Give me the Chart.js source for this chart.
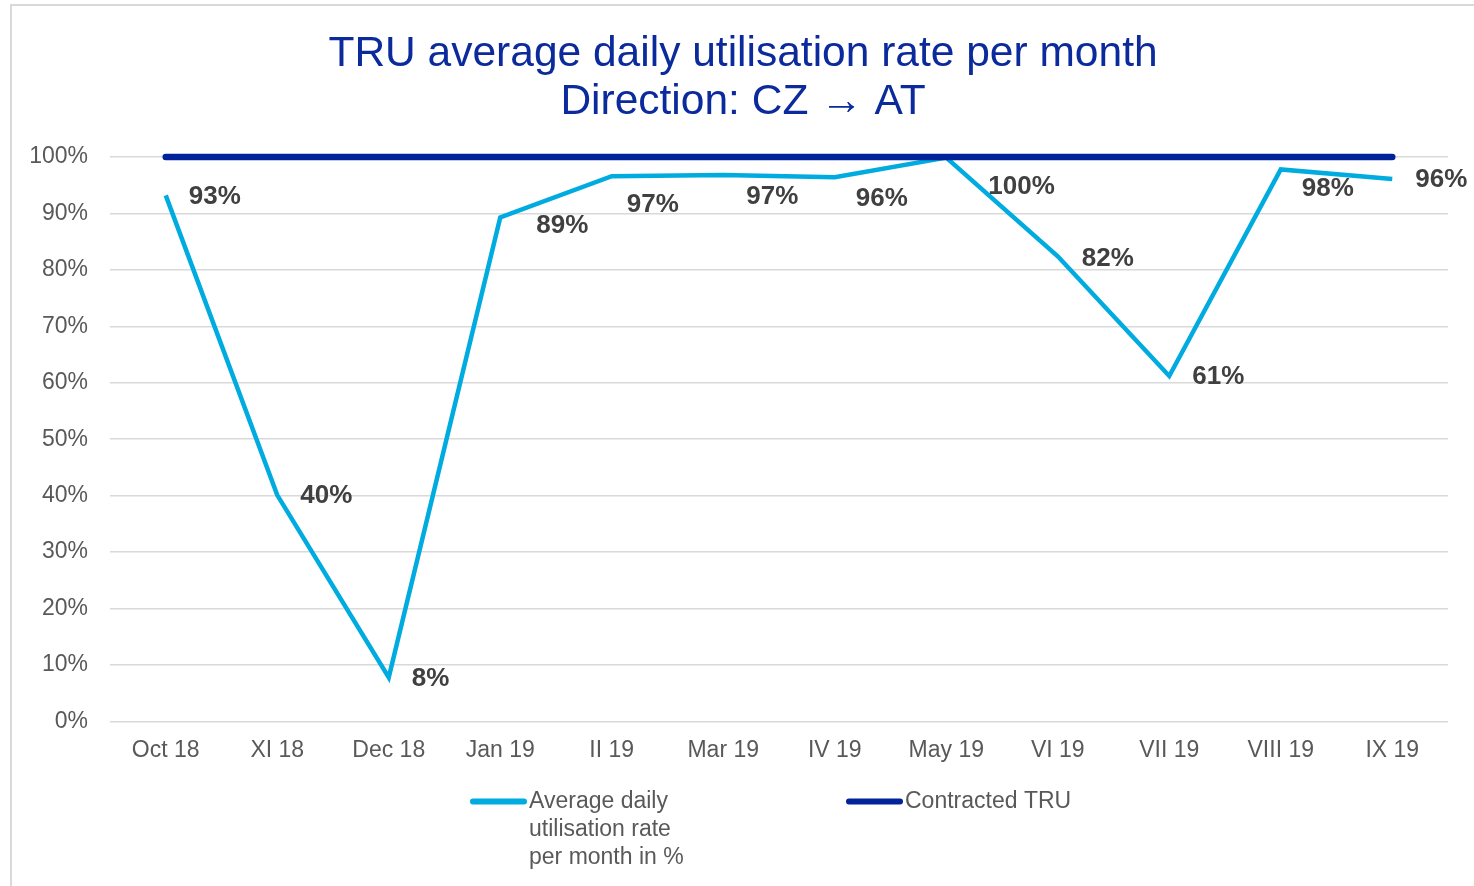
<!DOCTYPE html>
<html>
<head>
<meta charset="utf-8">
<title>TRU average daily utilisation rate per month</title>
<script src="https://cdn.jsdelivr.net/npm/chart.js@4.4.1/dist/chart.umd.min.js"></script>
<style>
  html, body { margin: 0; padding: 0; background: #fff; overflow: hidden; }
  #frame {
    position: absolute; left: 10px; top: 4px; width: 1490px; height: 900px;
    border: 2px solid #d9d9d9; box-sizing: border-box;
  }
  #wrap { position: absolute; left: 0; top: 0; width: 1474px; height: 886px; }
</style>
</head>
<body>
<div id="frame"></div>
<div id="wrap"><canvas id="truChart" width="1474" height="886"></canvas></div>
<script>
const months = ['Oct 18', 'XI 18', 'Dec 18', 'Jan 19', 'II 19', 'Mar 19', 'IV 19', 'May 19', 'VI 19', 'VII 19', 'VIII 19', 'IX 19'];
const utilisation = [93.2, 40.1, 7.8, 89.3, 96.6, 96.8, 96.4, 99.9, 82.4, 61.2, 97.8, 96.1];
const contracted = [100, 100, 100, 100, 100, 100, 100, 100, 100, 100, 100, 100];
const titleLines = ['TRU average daily utilisation rate per month', 'Direction: CZ \u2192 AT'];

const FONT = "'Liberation Sans', Arial, sans-serif";

// labels to the right of each point, some pushed down like in the original
const pointLabels = {
  id: 'pointLabels',
  afterDatasetsDraw(chart, args, opts) {
    const meta = chart.getDatasetMeta(opts.datasetIndex);
    const values = chart.data.datasets[opts.datasetIndex].data;
    const { ctx } = chart;
    ctx.save();
    ctx.font = `bold ${opts.size}px ${FONT}`;
    ctx.fillStyle = opts.color;
    ctx.textAlign = 'left';
    ctx.textBaseline = 'middle';
    meta.data.forEach((pt, i) => {
      const [dx, dy] = opts.nudge[i] || [0, 0];
      ctx.fillText(`${Math.round(values[i])}%`, pt.x + opts.offset + dx, pt.y + dy);
    });
    ctx.restore();
  },
};

function wrapText(ctx, text, maxWidth) {
  const lines = [];
  let line = '';
  text.split(' ').forEach((word) => {
    const test = line ? `${line} ${word}` : word;
    if (line && ctx.measureText(test).width > maxWidth) {
      lines.push(line);
      line = word;
    } else {
      line = test;
    }
  });
  if (line) lines.push(line);
  return lines;
}

// legend with wrapped labels (Excel style)
const wrappedLegend = {
  id: 'wrappedLegend',
  afterDraw(chart, args, opts) {
    const { ctx, chartArea } = chart;
    const top = chartArea.bottom + opts.gap;
    let x = (chartArea.left + chartArea.right) / 2 - opts.shift;
    ctx.save();
    ctx.font = `${opts.size}px ${FONT}`;
    ctx.textAlign = 'left';
    ctx.textBaseline = 'middle';
    chart.data.datasets.forEach((ds) => {
      ctx.strokeStyle = ds.borderColor;
      ctx.lineWidth = opts.lineWidth;
      ctx.lineCap = 'round';
      ctx.beginPath();
      ctx.moveTo(x + 3, top);
      ctx.lineTo(x + opts.lineLength - 3, top);
      ctx.stroke();
      ctx.fillStyle = opts.color;
      wrapText(ctx, ds.label, opts.maxTextWidth).forEach((ln, j) => {
        ctx.fillText(ln, x + opts.lineLength + 2, top + j * opts.lineHeight);
      });
      x += opts.columnWidth;
    });
    ctx.restore();
  },
};

new Chart(document.getElementById('truChart').getContext('2d'), {
  type: 'line',
  data: {
    labels: months,
    datasets: [
      {
        label: 'Average daily utilisation rate per month in %',
        data: utilisation,
        borderColor: '#00ABE0',
        backgroundColor: '#00ABE0',
        borderWidth: 4.5,
        pointRadius: 0,
        pointHoverRadius: 0,
        tension: 0,
        clip: false,
        order: 2,
      },
      {
        label: 'Contracted TRU',
        data: contracted,
        borderColor: '#00239C',
        backgroundColor: '#00239C',
        borderWidth: 6.5,
        borderCapStyle: 'round',
        pointRadius: 0,
        pointHoverRadius: 0,
        clip: false,
        order: 1,
      },
    ],
  },
  options: {
    responsive: false,
    animation: false,
    events: [],
    layout: {
      padding: { left: 38, right: 26, top: 0, bottom: 107 },
    },
    plugins: {
      legend: { display: false },
      tooltip: { enabled: false },
      title: {
        display: true,
        text: titleLines,
        color: '#0B2A9C',
        font: { family: FONT, size: 42.5, weight: 'normal', lineHeight: 48 / 42.5 },
        padding: { top: 30, bottom: 31 },
      },
      pointLabels: {
        datasetIndex: 0,
        size: 26,
        color: '#404040',
        offset: 23,
        nudge: [[0, 1], [0, 1], [0, 1], [13, 8], [-8, 29], [0, 22], [-2, 22], [19, 29], [1, 2], [0, 1], [-2, 19], [0, 1]],
      },
      wrappedLegend: {
        gap: 80,
        shift: 309,
        columnWidth: 376,
        lineLength: 57,
        lineWidth: 6,
        lineHeight: 28,
        maxTextWidth: 170,
        size: 23,
        color: '#595959',
      },
    },
    scales: {
      y: {
        min: 0,
        max: 100,
        border: { display: false },
        grid: { color: '#d9d9d9', lineWidth: 1.5, drawTicks: false },
        afterFit(scale) {
          // narrow axis box so the title centres like the original; let labels spill left
          scale.width = 72;
          scale._computeLabelArea = () => null;
        },
        ticks: {
          stepSize: 10,
          padding: 22,
          color: '#595959',
          font: { family: FONT, size: 23 },
          callback(v) {
            return `${v}%`;
          },
        },
      },
      x: {
        offset: true,
        border: { display: false },
        grid: { display: false, drawTicks: false, offset: true },
        ticks: {
          padding: 15,
          maxRotation: 0,
          autoSkip: false,
          color: '#595959',
          font: { family: FONT, size: 23 },
        },
      },
    },
  },
  plugins: [pointLabels, wrappedLegend],
});
</script>
</body>
</html>
